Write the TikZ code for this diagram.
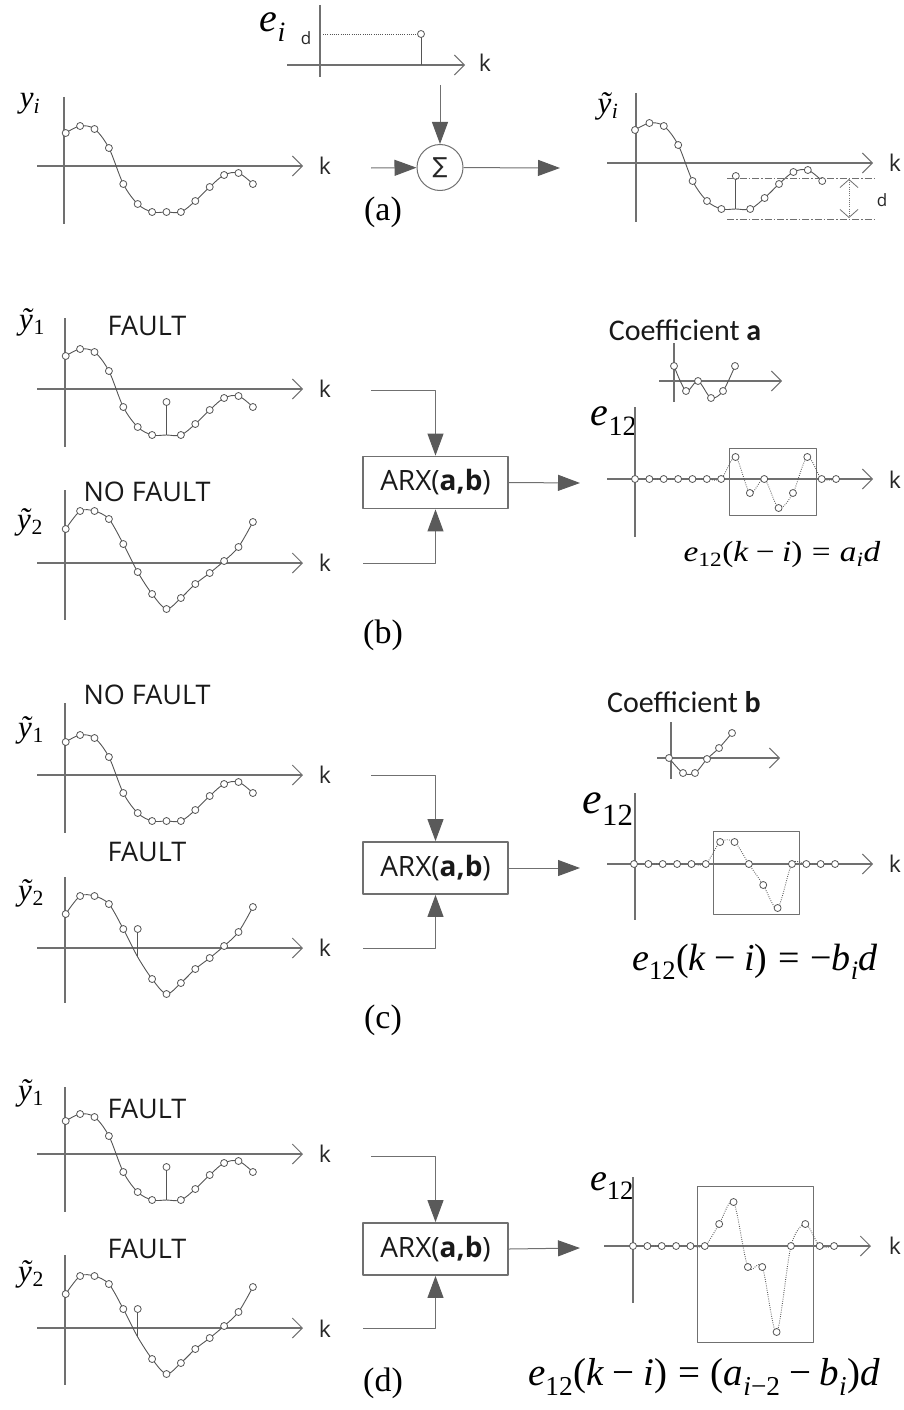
\documentclass[tikz,border=0pt]{standalone}
\usepackage{fontspec}
\usepackage{graphicx}
\setmainfont{Liberation Serif}
\newfontfamily\osans{Open Sans}
\newfontfamily\calib{Carlito}
\newfontfamily\djv{DejaVu Sans}
\usetikzlibrary{arrows.meta}
\definecolor{ax}{HTML}{707070}
\definecolor{cv}{HTML}{555555}
\definecolor{ah}{HTML}{5A5A5A}
\newcommand\fs[1]{\fontsize{#1}{#1}\selectfont}
\newcommand\mi[1]{\textit{#1}}
\newcommand\mm{\hspace{.22em}−\hspace{.22em}}
\newcommand\eqs{\hspace{.28em}=\hspace{.28em}}
\tikzset{
  vax/.style={draw=ax,line width=1.1pt},
  axis/.style={draw=ax,line width=1.1pt,-{Straight Barb[length=10pt,width=20pt,line width=1pt]}},
  curve/.style={draw=cv,line width=0.9pt},
  dot/.style={draw=cv,line width=0.8pt,fill=white},
  stem/.style={draw=cv,line width=1pt},
  ecurve/.style={draw=cv,line width=0.9pt,dash pattern=on 0.8pt off 1.4pt},
  mk/.style={solid,fill=white,draw=cv,line width=0.8pt},
  conn/.style={draw=ax,line width=1pt,-{Triangle[length=22pt,width=16pt,color=ah]}},
  klab/.style={font=\osans\fs{23},text=black!85},
  fault/.style={font=\osans\fs{27},text=black!90},
  coef/.style={font=\calib\fs{30},text=black!90},
  arx/.style={draw=ax,line width=1.8pt,minimum width=145pt,minimum height=52pt,font=\osans\fs{28},inner sep=0pt,text=black!90},
  frame/.style={draw=ax,line width=0.9pt},
  ylab/.style={font=\fs{31}},
  elab/.style={font=\fs{40}},
  lab/.style={font=\fs{34}},
  dlab/.style={font=\osans\fs{17},text=black!85},
  dashdot/.style={draw=ax,line width=0.8pt,dash pattern=on 7pt off 2pt on 1.5pt off 2pt},
  darr/.style={draw=ax,line width=0.8pt,dash pattern=on 0.8pt off 1.4pt,{Straight Barb[length=8pt,width=18pt,line width=0.8pt]}-{Straight Barb[length=8pt,width=18pt,line width=0.8pt]}},
  pics/cA/.style={code={
    \draw[curve] plot[smooth,tension=0.55] coordinates {(0,-33) (14.4,-40) (28.8,-37) (43.2,-18) (57.6,18) (72,38) (86.4,46) (100.8,46) (115.2,46) (129.6,35) (144,21) (158.4,9) (172.8,7) (187.2,18)};
    \foreach \v [count=\i from 0] in {-33,-40,-37,-18,18,38,46,46,46,35,21,9,7,18}{
      \ifnum\i=#1\relax
        \draw[stem] (\i*14.4,\v) -- (\i*14.4,\v-29.5);
        \draw[dot] (\i*14.4,\v-33) circle[radius=3.5pt];
      \else
        \draw[dot] (\i*14.4,\v) circle[radius=3.5pt];
      \fi}
  }},
  pics/cA/.default=-1,
  pics/cB/.style={code={
    \draw[curve] plot[smooth,tension=0.5] coordinates {(0,-34) (14.4,-52) (28.8,-52) (43.2,-44) (57.6,-19) (72,9) (86.4,31) (100.8,46) (115.2,35) (129.6,21) (144,10) (158.4,-2) (172.8,-16) (187.2,-41)};
    \foreach \v [count=\i from 0] in {-34,-52,-52,-44,-19,9,31,46,35,21,10,-2,-16,-41}{
      \ifnum\i=#1\relax
        \draw[stem] (\i*14.4,\v) -- (\i*14.4,\v-24.5);
        \draw[dot] (\i*14.4,\v-28) circle[radius=3.5pt];
      \else
        \draw[dot] (\i*14.4,\v) circle[radius=3.5pt];
      \fi}
  }},
  pics/cB/.default=-1,
  pics/eplot/.style={code={
    \draw[ecurve] plot[smooth,tension=0.5,mark=*,mark size=3.5pt,mark options={mk}] coordinates {#1};
  }},
}
\begin{document}
\begin{tikzpicture}[x=1pt,y=-1pt,line join=round]
\useasboundingbox (0,0) rectangle (903,1410);

% ---------------- (a) ----------------
\draw[vax] (64,97) -- (64,224);
\draw[axis] (37,166) -- (303,166);
\node[klab] (ka1) at (325,166) {k};
\node[ylab] (ya) at (30,104) {\mi{y}\textsubscript{\mi{i}}};
\pic at (65.7,166) {cA};

\node[font=\fs{40}] (ei) at (273,27) {\mi{e}\textsubscript{\mi{i}}};
\node[dlab] (dlab1) at (306,38) {d};
\draw[vax] (320,5) -- (320,77);
\draw[axis] (287,65) -- (465,65);
\node[klab] (ka2) at (485,63) {k};
\draw[draw=cv,line width=0.8pt,dash pattern=on 0.8pt off 1.4pt] (323,34) -- (417.5,34);
\draw[stem] (421,37.5) -- (421,65);
\draw[dot] (421,34) circle[radius=3.5pt];

\node[draw=ax,circle,line width=1pt,minimum size=46pt,inner sep=0pt,font=\djv\fs{22},text=black!85] (sig) at (440,167.5) {∑};
\coordinate (sigtop) at (440,85);
\coordinate (sigin) at (371,168);
\coordinate (sigout) at (560,168);
\draw[conn] (sigtop) -- (sig);
\draw[conn] (sigin) -- (sig);
\draw[conn] (sig) -- (sigout);

\draw[vax] (636,93) -- (636,222);
\draw[axis] (607,163) -- (873,163);
\node[klab] (ka3) at (895,163) {k};
\node[ylab] (yta) at (608,106) {\mi{ỹ}\textsubscript{\mi{i}}};
\pic at (635,163) {cA=7};
\draw[dashdot] (727,178) -- (875,178);
\draw[dashdot] (727,219) -- (875,219);
\draw[darr] (849,179) -- (849,218);
\node[dlab] (dlab2) at (882,200) {d};
\node[lab] (la) at (383,212) {(a)};

% ---------------- (b) ----------------
\draw[vax] (65,318) -- (65,447);
\draw[axis] (37,389) -- (303,389);
\node[klab] (kb1) at (325,389) {k};
\node[ylab] (yb1) at (32,322) {\mi{ỹ}\textsubscript{1}};
\node[fault] (fb1) at (147,326) {FAULT};
\pic at (65.7,389) {cA=7};

\draw[vax] (65,490) -- (65,620);
\draw[axis] (37,563) -- (303,563);
\node[klab] (kb2) at (325,563) {k};
\node[ylab] (yb2) at (30,522) {\mi{ỹ}\textsubscript{2}};
\node[fault] (fb2) at (147,492) {NO FAULT};
\pic at (65.7,563) {cB};

\node[arx] (arxB) at (435.5,482.5) {ARX(\textbf{a,b})};
\coordinate (bt) at (371,390);
\coordinate (bb) at (363,563);
\coordinate (bo) at (580,483);
\draw[conn] (bt) -| (arxB.north);
\draw[conn] (bb) -| (arxB.south);
\draw[conn] (arxB.east) -- (bo);

\node[coef] (cfa) at (685,330) {Coefficient \textbf{a}};
\draw[vax] (674,343) -- (674,402);
\draw[axis] (659,381) -- (782,381);
\draw[curve] plot[smooth,tension=0.5,mark=*,mark size=3.5pt,mark options={mk}] coordinates {(674,366) (686,391) (698,381) (711,398) (723,391) (735,366)};

\node[elab] (eb) at (614,421) {\mi{e}\textsubscript{12}};
\draw[vax] (635,407) -- (635,537);
\draw[axis] (607,479) -- (873,479);
\node[klab] (kb3) at (895,480) {k};
\draw[frame] (729,448) rectangle (816,515);
\pic at (635,479) {eplot={(0,0) (14.36,0) (28.72,0) (43.08,0) (57.44,0) (71.8,0) (86.16,0) (100.52,-22) (114.88,14) (129.24,0) (143.6,29) (157.96,14) (172.32,-22) (186.68,0) (201.04,0)}};
\node (eqb) at (782,555) {\scalebox{1.15}[1]{\fs{29}\mi{e}\textsubscript{12}(\mi{k}\mm\mi{i})\eqs\mi{a}\textsubscript{\mi{i}}\mi{d}}};
\node[lab] (lb) at (383,635) {(b)};

% ---------------- (c) ----------------
\draw[vax] (65,703) -- (65,833);
\draw[axis] (37,775) -- (303,775);
\node[klab] (kc1) at (325,775) {k};
\node[ylab] (yc1) at (31,730) {\mi{ỹ}\textsubscript{1}};
\node[fault] (fc1) at (147,695) {NO FAULT};
\pic at (65.7,775) {cA};

\draw[vax] (65,877) -- (65,1003);
\draw[axis] (37,948) -- (303,948);
\node[klab] (kc2) at (325,948) {k};
\node[ylab] (yc2) at (31,893) {\mi{ỹ}\textsubscript{2}};
\node[fault] (fc2) at (147,852) {FAULT};
\pic at (65.7,948) {cB=5};

\node[arx] (arxC) at (435.5,868) {ARX(\textbf{a,b})};
\coordinate (ct) at (371,775);
\coordinate (cb) at (363,948);
\coordinate (co) at (580,868);
\draw[conn] (ct) -| (arxC.north);
\draw[conn] (cb) -| (arxC.south);
\draw[conn] (arxC.east) -- (co);

\node[coef] (cfb) at (684,702) {Coefficient \textbf{b}};
\draw[vax] (671,722) -- (671,779);
\draw[axis] (657,758) -- (780,758);
\draw[curve] plot[smooth,tension=0.5,mark=*,mark size=3.5pt,mark options={mk}] coordinates {(669,758) (683,773) (695,773) (707,759) (719,748) (732,733)};

\node[elab,font=\fs{44}] (ec) at (608,809) {\mi{e}\textsubscript{12}};
\draw[vax] (635,793) -- (635,920);
\draw[axis] (607,864) -- (873,864);
\node[klab] (kc3) at (895,864) {k};
\draw[frame] (713,831) rectangle (799,914);
\pic at (634,864) {eplot={(0,0) (14.36,0) (28.72,0) (43.08,0) (57.44,0) (71.8,0) (86.16,-22) (100.52,-22) (114.88,0) (129.24,21) (143.6,44) (157.96,0) (172.32,0) (186.68,0) (201.04,0)}};
\node[font=\fs{38}] (eqc) at (755,962) {\mi{e}\textsubscript{12}(\mi{k}\mm\mi{i})\eqs−\mi{b}\textsubscript{\mi{i}}\mi{d}};
\node[lab] (lc) at (383,1020) {(c)};

% ---------------- (d) ----------------
\draw[vax] (65,1087) -- (65,1212);
\draw[axis] (37,1154) -- (303,1154);
\node[klab] (kd1) at (325,1154) {k};
\node[ylab] (yd1) at (31,1093) {\mi{ỹ}\textsubscript{1}};
\node[fault] (fd1) at (147,1109) {FAULT};
\pic at (65.7,1154) {cA=7};

\draw[vax] (65,1255) -- (65,1385);
\draw[axis] (37,1328) -- (303,1328);
\node[klab] (kd2) at (325,1329) {k};
\node[ylab] (yd2) at (31,1274) {\mi{ỹ}\textsubscript{2}};
\node[fault] (fd2) at (147,1249) {FAULT};
\pic at (65.7,1328) {cB=5};

\node[arx] (arxD) at (435.5,1249) {ARX(\textbf{a,b})};
\coordinate (dt) at (371,1156);
\coordinate (db) at (363,1328);
\coordinate (do) at (580,1248);
\draw[conn] (dt) -| (arxD.north);
\draw[conn] (db) -| (arxD.south);
\draw[conn] (arxD.east) -- (do);

\node[elab,font=\fs{38}] (ed) at (612,1186) {\mi{e}\textsubscript{12}};
\draw[vax] (633,1177) -- (633,1303);
\draw[axis] (604,1246) -- (871,1246);
\node[klab] (kd3) at (895,1246) {k};
\draw[frame] (697,1186) rectangle (813,1342);
\pic at (633,1246) {eplot={(0,0) (14.36,0) (28.72,0) (43.08,0) (57.44,0) (71.8,0) (86.16,-22) (100.52,-44) (114.88,21) (129.24,21) (143.6,86) (157.96,0) (172.32,-22) (186.68,0) (201.04,0)}};
\node[font=\fs{39}] (eqd) at (704,1377) {\mi{e}\textsubscript{12}(\mi{k}\mm\mi{i})\eqs(\mi{a}\textsubscript{\mi{i}−2}\mm\mi{b}\textsubscript{\mi{i}})\mi{d}};
\node[lab] (ld) at (383,1383) {(d)};
\end{tikzpicture}
\end{document}
